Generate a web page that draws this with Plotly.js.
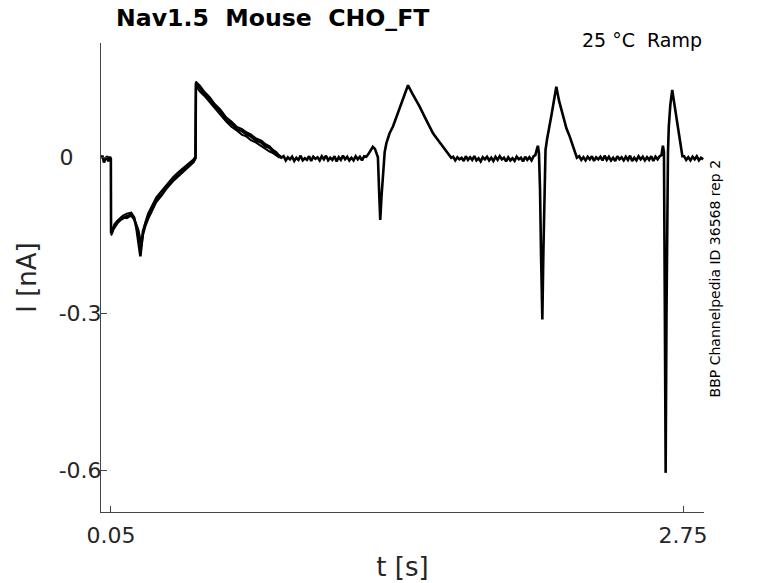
<!DOCTYPE html>
<html>
<head>
<meta charset="utf-8">
<script src="https://cdn.plot.ly/plotly-3.0.1.min.js"></script>
<style>
  html, body { margin: 0; padding: 0; background: #fff; }
  #chart { width: 778px; height: 583px; }
</style>
</head>
<body>
<div id="chart"></div>
<script>
// time axis [s], one row per stretch of the recording
var t = [
  0.003, 0.010, 0.017, 0.024, 0.031, 0.038, 0.045, 0.0495,
  // step + ramp
  0.0505, 0.058, 0.067, 0.08, 0.095, 0.107, 0.125, 0.146, 0.160, 0.170, 0.180, 0.189, 0.195,
  0.201, 0.212, 0.225, 0.245, 0.264, 0.290, 0.315, 0.343, 0.370, 0.395, 0.421, 0.440, 0.449,
  // jump + decay
  0.451, 0.455, 0.47, 0.49, 0.516, 0.54, 0.565, 0.595, 0.62, 0.645, 0.669, 0.689, 0.71,
  0.735, 0.76, 0.78, 0.799, 0.815, 0.83, 0.843, 0.854,
  // flat
  0.865, 0.875, 0.885, 0.895, 0.905, 0.915, 0.925, 0.935, 0.945, 0.955, 0.965, 0.975, 0.985,
  0.995, 1.005, 1.015, 1.025, 1.035, 1.045, 1.055, 1.065, 1.075, 1.085, 1.095, 1.105, 1.115,
  1.125, 1.135, 1.145, 1.155, 1.165, 1.175, 1.185, 1.195, 1.205, 1.215, 1.225, 1.235, 1.245,
  // spike 2
  1.255, 1.265, 1.276, 1.286, 1.296, 1.304, 1.310, 1.316, 1.321, 1.327, 1.334, 1.342, 1.350,
  1.365, 1.381, 1.40, 1.42, 1.437, 1.452, 1.47, 1.49, 1.507, 1.53, 1.55, 1.570, 1.595, 1.617,
  1.637, 1.656,
  // flat
  1.665, 1.675, 1.685, 1.695, 1.705, 1.715, 1.725, 1.735, 1.745, 1.755, 1.765, 1.775, 1.785,
  1.795, 1.805, 1.815, 1.825, 1.835, 1.845, 1.855, 1.865, 1.875, 1.885, 1.895, 1.905, 1.915,
  1.925, 1.935, 1.945, 1.955, 1.965, 1.975, 1.985, 1.995, 2.005, 2.015, 2.025, 2.035,
  // spike 3
  2.045, 2.053, 2.060, 2.065, 2.070, 2.075, 2.080, 2.086, 2.091, 2.096, 2.101, 2.108, 2.117,
  2.13, 2.14, 2.152, 2.165, 2.183, 2.20, 2.215, 2.232, 2.249,
  // flat
  2.26, 2.27, 2.28, 2.29, 2.30, 2.31, 2.32, 2.33, 2.34, 2.35, 2.36, 2.37, 2.38, 2.39, 2.40,
  2.41, 2.42, 2.43, 2.44, 2.45, 2.46, 2.47, 2.48, 2.49, 2.50, 2.51, 2.52, 2.53, 2.54, 2.55,
  2.56, 2.57, 2.58, 2.59, 2.60, 2.61, 2.62, 2.63, 2.64,
  // spike 4
  2.648, 2.655, 2.660, 2.664, 2.668, 2.672, 2.676, 2.679, 2.683, 2.690, 2.699, 2.708, 2.718,
  2.726, 2.734, 2.741, 2.747,
  // flat
  2.755, 2.765, 2.775, 2.785, 2.795, 2.805, 2.815, 2.825, 2.835, 2.845
];

// current [nA], rep 1 over the whole sweep
var rep1 = [
  -0.002, 0.003, -0.010, -0.004, 0.002, -0.008, 0.001, -0.003,
  -0.146, -0.140, -0.133, -0.126, -0.120, -0.117, -0.113, -0.110, -0.118, -0.135, -0.160, -0.190, -0.165,
  -0.142, -0.128, -0.114, -0.098, -0.082, -0.070, -0.056, -0.043, -0.033, -0.024, -0.015, -0.007, -0.001,
  0.142, 0.139, 0.133, 0.122, 0.111, 0.098, 0.088, 0.071, 0.064, 0.054, 0.050, 0.044, 0.040,
  0.032, 0.028, 0.021, 0.018, 0.011, 0.008, 0.002, -0.001,
  0.002, -0.006, 0.000, -0.004, 0.001, -0.007, -0.001, -0.005, 0.003, -0.006, -0.002, -0.005, 0.002,
  -0.007, 0.001, -0.003, 0.000, -0.006, 0.002, -0.004, 0.003, -0.006, -0.001, -0.005, 0.002, -0.008,
  0.000, -0.005, 0.003, -0.004, 0.001, -0.006, -0.001, -0.006, 0.002, -0.004, 0.001, -0.006, 0.002,
  0.001, 0.006, 0.014, 0.020, 0.016, 0.008, 0.000, -0.070, -0.120, -0.075, -0.024, 0.010, 0.027,
  0.046, 0.059, 0.080, 0.103, 0.121, 0.138, 0.124, 0.110, 0.097, 0.078, 0.062, 0.046, 0.032, 0.020,
  0.009, -0.001,
  0.001, -0.006, 0.000, -0.004, -0.001, -0.007, 0.002, -0.005, 0.000, -0.005, 0.002, -0.006, -0.002,
  -0.008, 0.000, -0.004, 0.001, -0.006, -0.001, -0.007, 0.001, -0.005, 0.002, -0.004, -0.001, -0.008,
  0.000, -0.006, -0.002, -0.007, 0.001, -0.004, -0.001, -0.008, 0.001, -0.005, 0.000, -0.006,
  0.002, 0.004, 0.015, 0.022, 0.008, -0.060, -0.190, -0.311, -0.180, -0.060, 0.014, 0.034, 0.052,
  0.083, 0.107, 0.135, 0.108, 0.078, 0.055, 0.040, 0.020, -0.001,
  0.002, -0.005, 0.000, -0.006, 0.001, -0.004, 0.002, -0.007, 0.000, -0.004, 0.001, -0.006, 0.003,
  -0.005, 0.001, -0.006, -0.001, -0.007, 0.002, -0.004, 0.000, -0.006, 0.001, -0.005, 0.003, -0.007,
  -0.001, -0.006, 0.002, -0.004, 0.001, -0.006, 0.000, -0.005, 0.002, -0.007, 0.001, -0.004, 0.002,
  0.004, 0.022, 0.010, -0.280, -0.605, -0.300, -0.040, 0.010, 0.060, 0.100, 0.129, 0.105, 0.084,
  0.060, 0.039, 0.018, 0.002,
  0.002, -0.005, 0.000, -0.006, 0.001, -0.004, 0.002, -0.006, -0.001, -0.004
];

// reps 2 and 3 only spread apart on the ramp and the first decay
var tRamp = t.slice(8, 55);
var rep2 = [
  -0.150, -0.143, -0.130, -0.122, -0.116, -0.112, -0.108, -0.106, -0.115, -0.130, -0.150, -0.165, -0.160,
  -0.145, -0.125, -0.108, -0.092, -0.077, -0.064, -0.051, -0.038, -0.028, -0.019, -0.011, -0.004, 0.002,
  0.136, 0.134, 0.126, 0.118, 0.105, 0.095, 0.082, 0.068, 0.058, 0.051, 0.043, 0.040, 0.033,
  0.028, 0.021, 0.017, 0.011, 0.008, 0.003, 0.000, 0.002
];
var rep3 = [
  -0.143, -0.136, -0.128, -0.122, -0.118, -0.115, -0.117, -0.112, -0.120, -0.128, -0.140, -0.155, -0.170,
  -0.150, -0.133, -0.119, -0.102, -0.086, -0.073, -0.059, -0.046, -0.036, -0.027, -0.018, -0.010, -0.003,
  0.145, 0.143, 0.137, 0.126, 0.115, 0.102, 0.092, 0.076, 0.068, 0.058, 0.054, 0.048, 0.044,
  0.036, 0.032, 0.025, 0.021, 0.014, 0.010, 0.004, 0.001
];

var xTicks = [0.05, 2.75];
var xTickText = ['0.05', '2.75'];
var yTicks = [-0.6, -0.3, 0];
var yTickText = ['-0.6', '-0.3', '0\u00a0\u00a0\u00a0\u00a0'];

if (t.length !== rep1.length) console.error('rep1 length', t.length, rep1.length);

function trace(x, y, w) {
  return {
    x: x,
    y: y,
    type: 'scatter',
    mode: 'lines',
    line: { color: '#000000', width: w },
    hoverinfo: 'skip'
  };
}

var axisColor = '#444444';
var layout = {
  width: 778,
  height: 583,
  margin: { l: 101, r: 74, t: 43, b: 71 },
  paper_bgcolor: '#ffffff',
  plot_bgcolor: '#ffffff',
  showlegend: false,
  font: { family: 'DejaVu Sans', color: '#262626' },
  title: {
    text: '<b>Nav1.5\u00a0 Mouse\u00a0 CHO_FT</b>',
    x: 116 / 778,
    xanchor: 'left',
    y: 1 - 18 / 583,
    yanchor: 'middle',
    font: { family: 'DejaVu Sans', size: 23.6, color: '#000000' }
  },
  xaxis: {
    range: [0.003, 2.849],
    tickvals: xTicks,
    ticktext: xTickText,
    ticks: 'inside',
    ticklen: 6,
    tickcolor: axisColor,
    showline: true,
    linecolor: axisColor,
    linewidth: 1,
    showgrid: false,
    zeroline: false,
    ticklabelstandoff: 4,
    tickfont: { size: 22, color: '#262626' },
    title: { text: 't [s]', font: { size: 26, color: '#262626' }, standoff: 10 }
  },
  yaxis: {
    range: [-0.680, 0.219],
    tickvals: yTicks,
    ticktext: yTickText,
    ticks: 'inside',
    ticklen: 6,
    tickcolor: axisColor,
    showline: true,
    linecolor: axisColor,
    linewidth: 1,
    showgrid: false,
    zeroline: false,
    ticklabelstandoff: -6,
    tickfont: { size: 22, color: '#262626' },
    title: { text: 'I [nA]', font: { size: 26, color: '#262626' }, standoff: 14 }
  },
  annotations: [
    {
      text: '25 °C\u00a0 Ramp',
      xref: 'paper', yref: 'paper',
      x: 1, y: 1.0064,
      xanchor: 'right', yanchor: 'middle',
      showarrow: false,
      font: { size: 19, color: '#000000' }
    },
    {
      text: 'BBP Channelpedia ID 36568 rep 2',
      xref: 'paper', yref: 'paper',
      x: 1.019, y: 0.499,
      xanchor: 'center', yanchor: 'middle',
      textangle: -90,
      showarrow: false,
      font: { size: 14, color: '#000000' }
    }
  ]
};

Plotly.newPlot('chart', [trace(tRamp, rep3, 2), trace(tRamp, rep2, 2), trace(t, rep1, 2.6)], layout, { staticPlot: true });
</script>
</body>
</html>
